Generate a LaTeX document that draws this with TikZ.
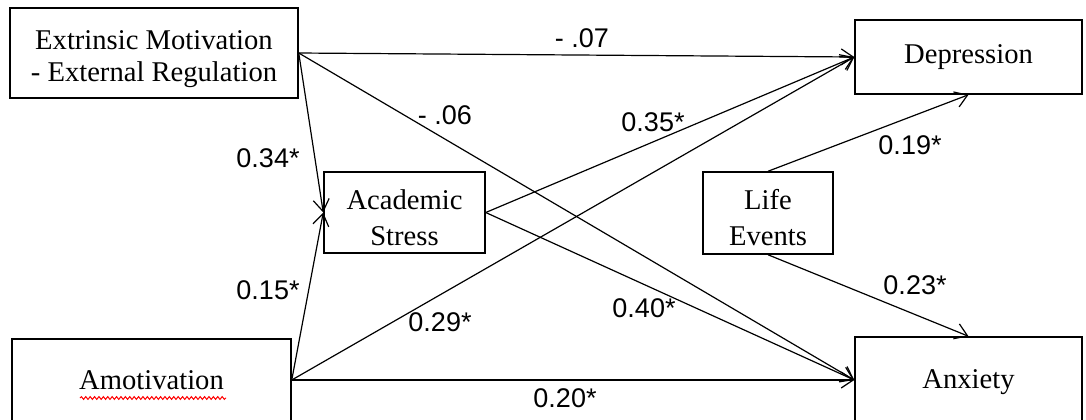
\documentclass[tikz,border=0pt]{standalone}
\usepackage{fontspec}
\setmainfont{Liberation Serif}
\newfontfamily\coeffont{Liberation Sans}
\usetikzlibrary{arrows.meta, positioning, calc, decorations.pathmorphing}
\newcommand{\lowr}[1]{\rule{0pt}{#1}}

\begin{document}
\begin{tikzpicture}[
			x=0.5pt, y=-0.5pt,
			var/.style={draw, line width=0.75pt, align=center, inner sep=0pt,
				font=\fontsize{14.3}{18}\selectfont},
			effect/.style={-{Straight Barb[length=6pt,width=8pt]}, line width=0.6pt},
			coef/.style={font=\coeffont\fontsize{13.5}{16}\selectfont, inner sep=0pt}
			]
			\useasboundingbox (0,0) rectangle (1086,419);
			% Variablen links
			\node[var, minimum width=144pt, minimum height=45pt,
				font=\fontsize{14.3}{16}\selectfont] (ext) at (154,53)
				{\lowr{16pt}Extrinsic Motivation\\- External Regulation};
			\node[var, minimum width=139.5pt, minimum height=41pt] (amo) at (151.5,380) {Amotivation};
			% Mediator
			\node[var, minimum width=80.5pt, minimum height=40.5pt] (acs) at (404.5,212.5) {\lowr{15pt}Academic\\Stress};
			\node[var, minimum width=65pt, minimum height=41pt] (life) at (768,213) {\lowr{15pt}Life\\Events};
			% Variablen rechts
			\node[var, minimum width=113.5pt, minimum height=37pt] (dep) at (968.5,57) {Depression};
			\node[var, minimum width=113.5pt, minimum height=43pt] (anx) at (968.5,380) {\lowr{12pt}Anxiety};
			% Rechtschreibmarkierung
			\coordinate (wa) at (80,398);
			\coordinate (wb) at (226,398);
			\draw[red, line width=0.5pt, decorate,
				decoration={snake, segment length=2.2pt, amplitude=0.7pt}] (wa) -- (wb);
			% Pfade
			\draw[effect] (ext.east) -- (dep.west);
			\draw[effect] (ext.east) -- (anx.west);
			\draw[effect] (ext.east) -- (acs.west);
			\draw[effect] (amo.east) -- (acs.west);
			\draw[effect] (amo.east) -- (dep.west);
			\draw[effect] (amo.east) -- (anx.west);
			\draw[effect] (acs.east) -- (dep.west);
			\draw[effect] (acs.east) -- (anx.west);
			\draw[effect] (life.north) -- (dep.south);
			\draw[effect] (life.south) -- (anx.north);
			% Koeffizienten
			\node[coef] (c1) at (582,38) {- .07};
			\node[coef] (c2) at (445,115) {- .06};
			\node[coef] (c3) at (268,158) {0.34*};
			\node[coef] (c4) at (268,290) {0.15*};
			\node[coef] (c5) at (653,122) {0.35*};
			\node[coef] (c6) at (440,322) {0.29*};
			\node[coef] (c7) at (644,308) {0.40*};
			\node[coef] (c8) at (565,398) {0.20*};
			\node[coef] (c9) at (910,145) {0.19*};
			\node[coef] (c10) at (915,285) {0.23*};
		\end{tikzpicture}
\end{document}
